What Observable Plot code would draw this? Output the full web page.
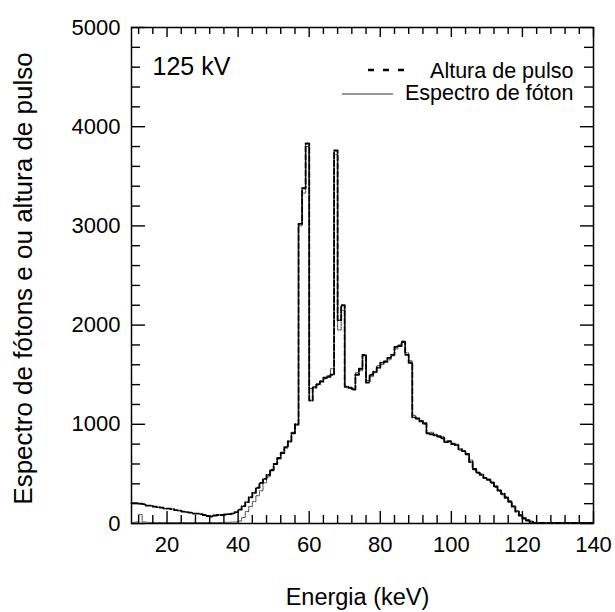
<!DOCTYPE html>
<html>
<head>
<meta charset="utf-8">
<script src="https://cdn.jsdelivr.net/npm/d3@7"></script>
<script src="https://cdn.jsdelivr.net/npm/@observablehq/plot@0.6"></script>
<style>
  html, body { margin: 0; padding: 0; background: #fff; }
  #chart svg { display: block; font-family: 'Liberation Sans', Arial, Helvetica, sans-serif; color: black; }
</style>
</head>
<body>
<div id="chart"></div>
<script>
// Energy bins (keV), each bin spans [e, e+1]
const energyStart = 10;
const energyEnd = 140;

// Pulse-height spectrum ("Altura de pulso"), counts per 1 keV bin from 10 keV
const pulseHeight = [
  205, 205, 200, 195, 180, 180, 170, 165, 160, 150,   // 10-19
  150, 145, 135, 130, 120, 115, 110, 100, 100, 95,    // 20-29
  85, 75, 70, 80, 85, 85, 90, 95, 100, 115,           // 30-39
  140, 175, 215, 265, 310, 360, 410, 450, 490, 540,   // 40-49
  600, 660, 710, 770, 830, 910, 1000, 3020, 3380, 3830, // 50-59
  1240, 1370, 1400, 1430, 1470, 1480, 1500, 3760, 2050, 2200, // 60-69
  1380, 1370, 1350, 1500, 1560, 1700, 1420, 1500, 1530, 1570, // 70-79
  1620, 1630, 1670, 1700, 1780, 1790, 1830, 1700, 1620, 1070, // 80-89
  1060, 1030, 1010, 910, 900, 890, 880, 860, 820, 830,  // 90-99
  800, 790, 750, 730, 700, 620, 550, 510, 490, 460,     // 100-109
  440, 410, 370, 330, 300, 260, 220, 170, 120, 80,      // 110-119
  50, 30, 15, 5, 5, 5, 5, 5, 5, 5,                      // 120-129
  5, 5, 5, 5, 5, 5, 5, 5, 5, 5                          // 130-139
];

// Photon spectrum ("Espectro de fóton"), per 1 keV bin from 10 keV
const photonSpectrum = [
  10, 15, 90, 15, 12, 10, 10, 10, 10, 10,               // 10-19
  10, 10, 10, 10, 10, 10, 10, 10, 10, 10,               // 20-29
  10, 10, 10, 10, 10, 10, 12, 12, 15, 15,               // 30-39
  25, 60, 120, 170, 220, 280, 330, 410, 470, 530,       // 40-49
  600, 650, 720, 760, 820, 920, 990, 3000, 3330, 3800,  // 50-59
  1360, 1380, 1410, 1440, 1460, 1490, 1560, 3720, 1950, 2150, // 60-69
  1370, 1360, 1360, 1520, 1540, 1690, 1440, 1480, 1520, 1590, // 70-79
  1600, 1640, 1650, 1690, 1760, 1800, 1840, 1720, 1640, 1090, // 80-89
  1050, 1040, 1000, 905, 920, 900, 870, 875, 830, 820,  // 90-99
  810, 800, 740, 735, 690, 640, 540, 520, 500, 455,     // 100-109
  450, 420, 380, 340, 290, 270, 230, 180, 130, 90,      // 110-119
  60, 40, 25, 12, 5, 3, 3, 3, 3, 3,                     // 120-129
  3, 3, 3, 3, 3, 3, 3, 3, 3, 3                          // 130-139
];

const xTickLabels = [20, 40, 60, 80, 100, 120, 140];
const yTickLabels = [0, 1000, 2000, 3000, 4000, 5000];

const seriesNames = ["Altura de pulso", "Espectro de fóton"];
const annotation = "125 kV";
const xLabel = "Energia (keV)";
const yLabel = "Espectro de fótons e ou altura de pulso";

function toSteps(values) {
  const rows = values.map((v, i) => ({e: energyStart + i, v}));
  rows.push({e: energyStart + values.length, v: values[values.length - 1]});
  return rows;
}
const pulseRows = toSteps(pulseHeight);
const photonRows = toSteps(photonSpectrum);

const xMinor = d3.range(12, 141, 4).filter(v => !xTickLabels.includes(v));
const yMinor = d3.range(200, 5000, 200).filter(v => !yTickLabels.includes(v));

const W = 615, H = 612;
const mL = 131, mR = 22, mT = 27, mB = 89;
const fw = W - mL - mR, fh = H - mT - mB; // frame size in px

// inward tick helpers: rules of fixed pixel length via insets
const tickB = (d, len) => Plot.ruleX(d, {x: v => v, insetTop: fh - len, stroke: "black", strokeWidth: 1.4});
const tickT = (d, len) => Plot.ruleX(d, {x: v => v, insetBottom: fh - len, stroke: "black", strokeWidth: 1.4});
const tickL = (d, len) => Plot.ruleY(d, {y: v => v, insetRight: fw - len, stroke: "black", strokeWidth: 1.4});
const tickR = (d, len) => Plot.ruleY(d, {y: v => v, insetLeft: fw - len, stroke: "black", strokeWidth: 1.4});

const chart = Plot.plot({
  width: W,
  height: H,
  marginLeft: mL,
  marginRight: mR,
  marginTop: mT,
  marginBottom: mB,
  x: {domain: [energyStart, energyEnd]},
  y: {domain: [0, 5000]},
  marks: [
    Plot.frame({stroke: "black", strokeWidth: 1.5}),
    Plot.line(photonRows, {x: "e", y: "v", curve: "step-after", stroke: "#444", strokeWidth: 1, strokeDasharray: "1.5,1"}),
    Plot.line(pulseRows, {x: "e", y: "v", curve: "step-after", stroke: "black", strokeWidth: 1.9, strokeDasharray: "6,2"}),
    Plot.axisX(xTickLabels, {anchor: "bottom", tickSize: 0, tickPadding: 13, label: null, fontSize: 22, tickFormat: d => String(d)}),
    Plot.axisY(yTickLabels, {anchor: "left", tickSize: 0, tickPadding: 11, label: null, fontSize: 22, tickFormat: d => String(d)}),
    Plot.text([xLabel], {text: d => d, frameAnchor: "bottom", textAnchor: "middle", lineAnchor: "middle", dx: -5, dy: 74, fontSize: 23.5}),
    Plot.text([yLabel], {text: d => d, frameAnchor: "left", textAnchor: "middle", lineAnchor: "middle", rotate: -90, dx: -108, dy: 3, fontSize: 26}),
    Plot.text([annotation], {text: d => d, frameAnchor: "top-left", textAnchor: "start", lineAnchor: "top", dx: 21, dy: 30, fontSize: 25}),
    Plot.text([seriesNames[0]], {text: d => d, frameAnchor: "top-right", textAnchor: "end", lineAnchor: "top", dx: -20, dy: 35, fontSize: 21.5}),
    Plot.text([seriesNames[1]], {text: d => d, frameAnchor: "top-right", textAnchor: "end", lineAnchor: "top", dx: -20, dy: 57, fontSize: 21.5}),
    tickB(xMinor, 8), tickB(xTickLabels, 12),
    tickT(xMinor, 7), tickT(xTickLabels, 10),
    tickL(yMinor, 9), tickL(yTickLabels, 14),
    tickR(yMinor, 9), tickR(yTickLabels, 13)
  ]
});

// legend line samples
const svg = d3.select(chart);
svg.append("line").attr("x1", 368).attr("x2", 413).attr("y1", 70).attr("y2", 70)
  .attr("stroke", "black").attr("stroke-width", 2.3).attr("stroke-dasharray", "6,9");
svg.append("line").attr("x1", 342).attr("x2", 393).attr("y1", 94).attr("y2", 94)
  .attr("stroke", "#333").attr("stroke-width", 1.2);

document.getElementById("chart").appendChild(chart);
</script>
</body>
</html>
